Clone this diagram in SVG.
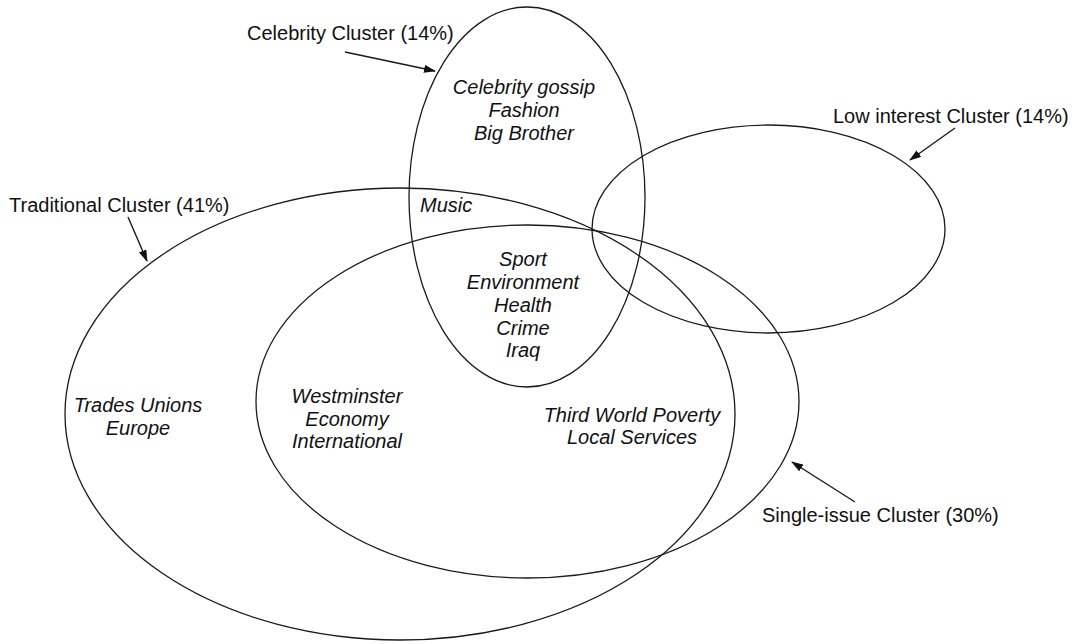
<svg xmlns="http://www.w3.org/2000/svg" width="1077" height="644" viewBox="0 0 1077 644">
<style>
.ring{fill:none;stroke:#1a1a1a;stroke-width:1.3}
.lbl{font-family:"Liberation Sans",Arial,sans-serif;font-size:20px;fill:#111}
.topic{font-family:"Liberation Sans",Arial,sans-serif;font-size:20px;font-style:italic;fill:#111;text-anchor:middle}
.arrow{stroke:#1a1a1a;stroke-width:1.4;fill:none;marker-end:url(#ah)}
</style>
<defs>
<marker id="ah" markerUnits="userSpaceOnUse" markerWidth="12" markerHeight="8" refX="11" refY="4" orient="auto">
<path d="M0,0 L12,4 L0,8 z" fill="#111"/>
</marker>
</defs>
<rect width="1077" height="644" fill="#fff"/>
<g id="traditional">
<ellipse class="ring" cx="400" cy="414" rx="335" ry="226"/>
<text class="lbl" x="9" y="212">Traditional Cluster (41%)</text>
</g>
<g id="single-issue">
<ellipse class="ring" cx="527.5" cy="401.5" rx="271.5" ry="176.5"/>
<text class="lbl" x="762" y="522">Single-issue Cluster (30%)</text>
</g>
<g id="celebrity">
<ellipse class="ring" cx="527" cy="197" rx="118" ry="190"/>
<text class="lbl" x="247" y="40">Celebrity Cluster (14%)</text>
</g>
<g id="low-interest">
<ellipse class="ring" cx="768.5" cy="229" rx="176.5" ry="104"/>
<text class="lbl" x="833" y="123">Low interest Cluster (14%)</text>
</g>
<g id="topics-celebrity">
<text class="topic" x="524" y="94">Celebrity gossip</text>
<text class="topic" x="524" y="117">Fashion</text>
<text class="topic" x="524" y="140">Big Brother</text>
</g>
<g id="topics-music">
<text class="topic" x="420" y="212" style="text-anchor:start">Music</text>
</g>
<g id="topics-core">
<text class="topic" x="523" y="266">Sport</text>
<text class="topic" x="523" y="289">Environment</text>
<text class="topic" x="523" y="312">Health</text>
<text class="topic" x="523" y="335">Crime</text>
<text class="topic" x="523" y="357">Iraq</text>
</g>
<g id="topics-traditional">
<text class="topic" x="138" y="412">Trades Unions</text>
<text class="topic" x="138" y="435">Europe</text>
</g>
<g id="topics-shared">
<text class="topic" x="347" y="403">Westminster</text>
<text class="topic" x="347" y="426">Economy</text>
<text class="topic" x="347" y="448">International</text>
</g>
<g id="topics-single">
<text class="topic" x="632" y="422">Third World Poverty</text>
<text class="topic" x="632" y="444">Local Services</text>
</g>
<g id="connectors">
<line class="arrow" x1="345" y1="52" x2="435" y2="71"/>
<line class="arrow" x1="128" y1="217" x2="147" y2="261"/>
<line class="arrow" x1="955" y1="128" x2="910" y2="160"/>
<line class="arrow" x1="855" y1="502" x2="792" y2="462"/>
</g>
</svg>
